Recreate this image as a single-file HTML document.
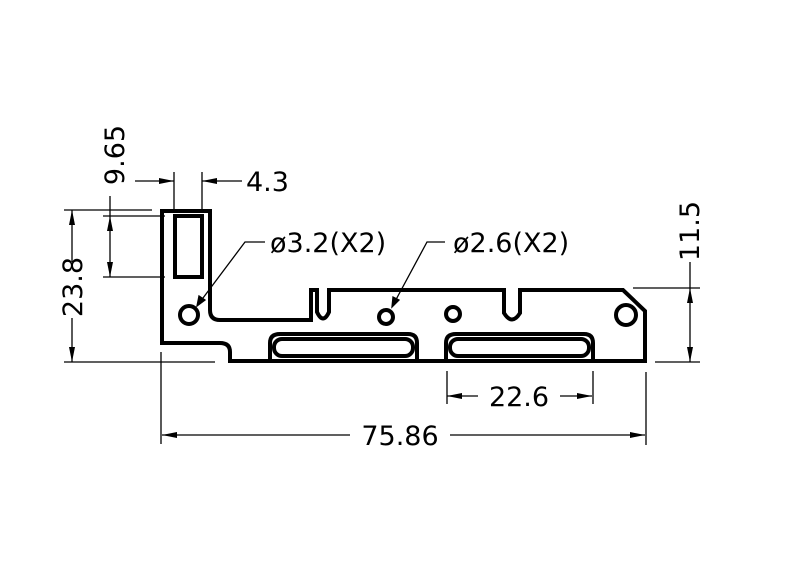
<!DOCTYPE html>
<html><head><style>body{margin:0;background:#fff}svg{display:block}text{font-family:"DejaVu Sans","Liberation Sans",sans-serif;font-size:27px;fill:#000}</style></head>
<body>
<svg width="800" height="576" viewBox="0 0 800 576" xmlns="http://www.w3.org/2000/svg">
<defs><marker id="a" viewBox="0 0 10 4" refX="10" refY="2" markerWidth="18" markerHeight="6" markerUnits="userSpaceOnUse" orient="auto-start-reverse"><path d="M0,0L10,2L0,4z" fill="#000"/></marker></defs>
<g fill="none" stroke="#000" stroke-width="4" stroke-linejoin="miter">
<path d="M162,211 H210 V310 Q210,320 220,320 H311 V290 H317 V312 Q323,325 329,312 V290 H504 V313 Q512,326 520,313 V290 H623 L645,311 V361 H230 V352 Q230,343 220,343 H162 Z"/>
<rect x="175" y="216" width="27" height="61"/>
<circle cx="189" cy="315" r="9"/>
<circle cx="386" cy="317" r="7"/>
<circle cx="453" cy="314" r="7"/>
<circle cx="626" cy="315" r="10"/>
<path d="M270,361 V343 Q270,334 280,334 H408 Q417,334 417,343 V361"/>
<rect x="274" y="339" width="139" height="17" rx="8"/>
<path d="M446,361 V343 Q446,334 456,334 H584 Q593,334 593,343 V361"/>
<rect x="450" y="339" width="139" height="17" rx="8"/>
</g>
<g fill="none" stroke="#000" stroke-width="1.3">
<path d="M64,210 H152 M64,362 H215 M103,216 H165 M103,277 H165 M174,172 V210 M202,172 V210 M161,352 V444 M646,372 V445 M447,371 V404 M593,371 V404 M633,288 H700 M655,362 H700"/>
<line x1="72" y1="262" x2="72" y2="210" marker-end="url(#a)"/>
<line x1="72" y1="318" x2="72" y2="362" marker-end="url(#a)"/>
<line x1="110" y1="246" x2="110" y2="216" marker-end="url(#a)"/>
<line x1="110" y1="246" x2="110" y2="277" marker-end="url(#a)"/>
<line x1="110" y1="196" x2="110" y2="216"/>
<line x1="135" y1="181" x2="174" y2="181" marker-end="url(#a)"/>
<line x1="242" y1="181" x2="202" y2="181" marker-end="url(#a)"/>
<line x1="690" y1="325" x2="690" y2="288" marker-end="url(#a)"/>
<line x1="690" y1="325" x2="690" y2="362" marker-end="url(#a)"/>
<line x1="690" y1="262" x2="690" y2="288"/>
<line x1="350" y1="435" x2="162" y2="435" marker-end="url(#a)"/>
<line x1="450" y1="435" x2="645" y2="435" marker-end="url(#a)"/>
<line x1="478" y1="396" x2="447" y2="396" marker-end="url(#a)"/>
<line x1="560" y1="396" x2="592" y2="396" marker-end="url(#a)"/>
<path d="M265,242 H245 L197,306" />
<path d="M445,242 H427 L392,307" />
<path d="M197,306 l2,-10 l6,4z M392,307 l1,-10 l6,3z" fill="#000"/>
</g>
<text x="270" y="252">ø3.2(X2)</text>
<text x="453" y="252">ø2.6(X2)</text>
<text x="246" y="191">4.3</text>
<text x="400" y="445" text-anchor="middle">75.86</text>
<text x="519" y="406" text-anchor="middle">22.6</text>
<text transform="translate(82,287) rotate(-90)" text-anchor="middle">23.8</text>
<text transform="translate(124,155) rotate(-90)" text-anchor="middle">9.65</text>
<text transform="translate(699,231) rotate(-90)" text-anchor="middle">11.5</text>
</svg>
</body></html>
